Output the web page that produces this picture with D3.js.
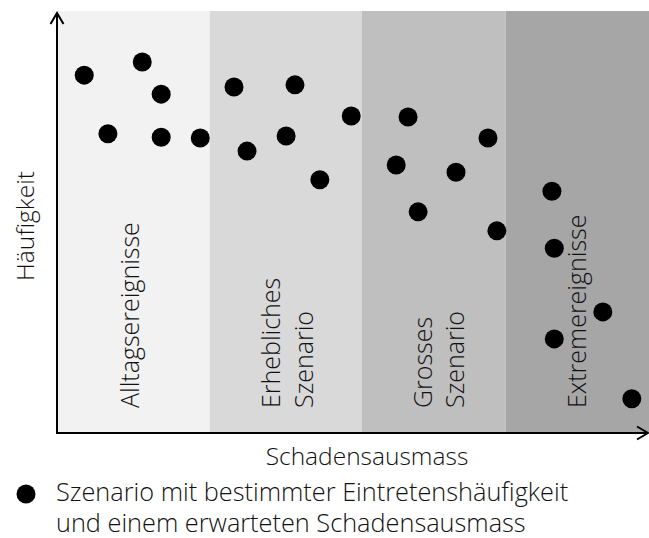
<!DOCTYPE html>
<meta charset="utf-8">
<head>
<style>
body { margin: 0; background: #fff; }
text { font-family: "Open Sans", sans-serif; font-weight: 350; fill: #111; }
.band-label { font-size: 25px; }
.axis-title { font-size: 24.5px; }
.legend { font-size: 25.3px; }
</style>
</head>
<body>
<svg width="649" height="538"></svg>
<script src="https://d3js.org/d3.v7.min.js"></script>
<script>

// bands along Schadensausmass (0..100)
var bandNames = [["Alltagsereignisse"], ["Erhebliches", "Szenario"], ["Grosses", "Szenario"], ["Extremereignisse"]];
var bandEdges = [0, 25.8, 51.5, 75.8, 100];
var bandColors = ["#f2f2f2", "#d9d9d9", "#bfbfbf", "#a6a6a6"];

// scenarios: Schadensausmass (x) and Häufigkeit (y), 0..100
var schaden = [4.6, 14.4, 17.6, 8.6, 17.6, 24.2, 29.9, 40.2, 49.7, 38.7, 32.1, 44.4,
               59.3, 72.8, 57.3, 67.4, 61.0, 74.3, 83.6, 84.0, 92.2, 84.0, 97.1];
var haeufigkeit = [84.8, 87.9, 80.3, 70.9, 70.1, 69.9, 82.0, 82.5, 75.1, 70.4, 66.8, 60.0,
                   74.9, 69.9, 63.5, 61.8, 52.4, 47.9, 57.3, 43.8, 28.7, 22.3, 8.1];

var xTitle = "Schadensausmass";
var yTitle = "Häufigkeit";
var legendLines = ["Szenario mit bestimmter Eintretenshäufigkeit", "und einem erwarteten Schadensausmass"];

var svg = d3.select("svg");

var x = d3.scaleLinear().domain([0, 100]).range([57, 649]);
var y = d3.scaleLinear().domain([0, 100]).range([433, 11]);

// shaded bands
svg.selectAll(".band")
  .data(bandColors)
  .enter().append("rect")
    .attr("class", "band")
    .attr("x", function(d, i) { return x(bandEdges[i]); })
    .attr("width", function(d, i) { return x(bandEdges[i + 1]) - x(bandEdges[i]); })
    .attr("y", y(100))
    .attr("height", y(0) - y(100))
    .attr("fill", function(d) { return d; });

// band labels, rotated
var labelX = [[139], [280, 313], [432, 464], [586]];
bandNames.forEach(function(lines, i) {
  lines.forEach(function(t, j) {
    svg.append("text")
      .attr("class", "band-label")
      .attr("transform", "translate(" + labelX[i][j] + "," + (y(0) - 25) + ") rotate(-90)")
      .text(t);
  });
});

// axes
var axis = svg.append("g").attr("fill", "none").attr("stroke", "#000").attr("stroke-width", 2);
axis.append("path").attr("d", "M" + x(0) + "," + (y(0) + 1) + "V" + 13);
axis.append("path").attr("d", "M" + (x(0) - 6.5) + ",24L" + x(0) + ",13L" + (x(0) + 6.5) + ",24");
axis.append("path").attr("d", "M" + (x(0) - 1) + "," + y(0) + "H648");
axis.append("path").attr("d", "M637," + (y(0) - 6.5) + "L648," + y(0) + "L637," + (y(0) + 6.5));

// scenario dots
svg.selectAll(".dot")
  .data(schaden)
  .enter().append("circle")
    .attr("class", "dot")
    .attr("cx", function(d) { return x(d); })
    .attr("cy", function(d, i) { return y(haeufigkeit[i]); })
    .attr("r", 9.5)
    .attr("fill", "#000");

// axis titles
svg.append("text")
  .attr("class", "axis-title")
  .attr("x", 367).attr("y", 465)
  .attr("text-anchor", "middle")
  .text(xTitle);

svg.append("text")
  .attr("class", "axis-title")
  .attr("transform", "translate(34,226) rotate(-90)")
  .attr("text-anchor", "middle")
  .text(yTitle);

// legend
svg.append("circle").attr("cx", 26).attr("cy", 494).attr("r", 9.5).attr("fill", "#000");
svg.selectAll(".legend")
  .data(legendLines)
  .enter().append("text")
    .attr("class", "legend")
    .attr("x", 56)
    .attr("y", function(d, i) { return 501 + i * 31; })
    .text(function(d) { return d; });

</script>
</body>
</html>
